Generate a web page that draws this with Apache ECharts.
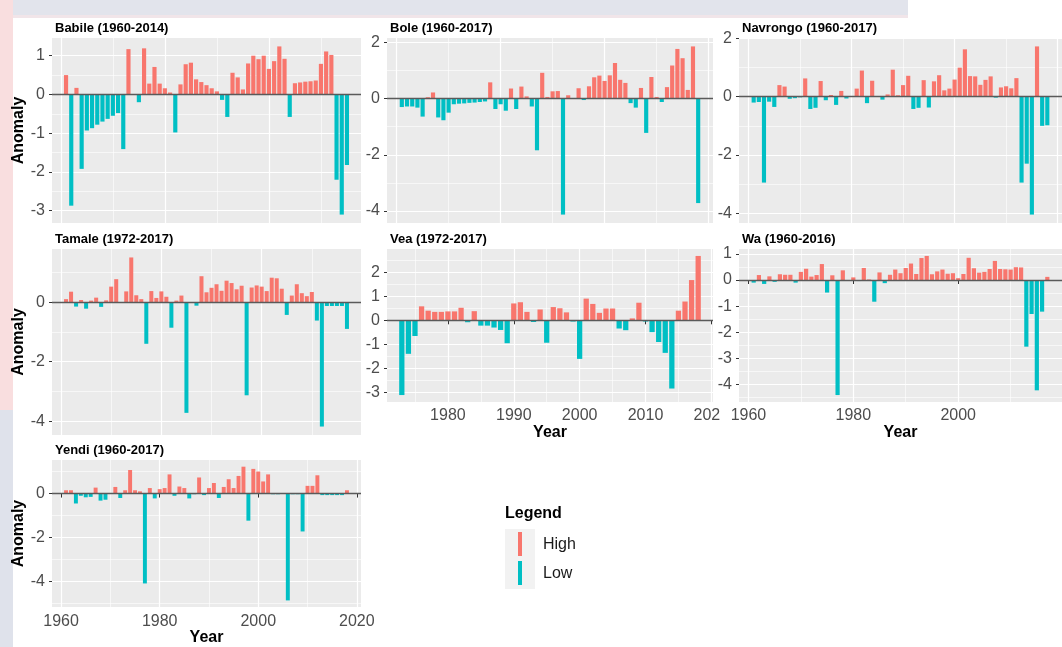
<!DOCTYPE html>
<html><head><meta charset="utf-8">
<script src="https://cdn.jsdelivr.net/npm/echarts@6/dist/echarts.min.js"></script>
<style>html,body{margin:0;padding:0;background:#fff}#c{width:1062px;height:647px}</style>
</head><body><div id="c"></div>
<script>
// ---------------- DATA ----------------
const titles = ['Babile (1960-2014)', 'Bole (1960-2017)', 'Navrongo (1960-2017)', 'Tamale (1972-2017)', 'Vea (1972-2017)', 'Wa (1960-2016)', 'Yendi (1960-2017)'];

const babileStart = 1961;
const babileValues = [0.5, -2.87, 0.17, -1.92, -0.93, -0.87, -0.78, -0.70, -0.63, -0.55, -0.48, -1.41, 1.17, 0, -0.2, 1.19, 0.28, 0.71, 0.28, 0.16, 0.05, -0.98, 0.26, 0.78, 0.82, 0.39, 0.32, 0.24, 0.16, 0.08, -0.14, -0.58, 0.56, 0.44, 0.13, 0.80, 1.0, 0.91, 1.0, 0.66, 0.86, 1.24, 0.92, -0.58, 0.29, 0.31, 0.33, 0.34, 0.36, 0.79, 1.11, 1.02, -2.2, -3.1, -1.82];

const boleStart = 1961;
const boleValues = [-0.3, -0.28, -0.28, -0.32, -0.64, 0.05, 0.22, -0.67, -0.77, -0.5, -0.2, -0.18, -0.17, -0.15, -0.14, -0.12, -0.1, 0.58, -0.37, -0.2, -0.43, 0.36, -0.37, 0.43, 0.08, -0.28, -1.84, 0.92, 0.06, 0.26, 0.27, -4.13, 0.12, 0, 0.37, -0.05, 0.44, 0.76, 0.82, 0.63, 0.83, 1.27, 0.67, 0.56, -0.16, -0.32, 0.38, -1.22, 0.77, 0.06, -0.12, 0.41, 1.18, 1.77, 1.44, 0.31, 1.86, -3.72];

const navrongoStart = 1961;
const navrongoValues = [-0.2, -0.18, -2.95, -0.17, -0.35, 0.4, 0.35, -0.07, -0.05, -0.02, 0.63, -0.42, -0.38, 0.54, -0.12, 0.06, -0.28, 0.2, -0.06, 0, 0.28, 0.9, -0.22, 0.55, 0, -0.1, 0.08, 0.93, 0.05, 0.4, 0.72, -0.42, -0.38, 0.57, -0.37, 0.53, 0.74, 0.22, 0.28, 0.59, 1.0, 1.63, 0.71, 0.7, 0.41, 0.58, 0.7, -0.03, 0.32, 0.36, 0.29, 0.64, -2.95, -2.3, -4.05, 1.73, -1.0, -0.98];

const tamaleStart = 1961;
const tamaleValues = [0.1, 0.35, -0.15, 0.07, -0.22, 0.05, 0.15, -0.16, 0.06, 0.52, 0.77, 0, 0.36, 1.5, 0.23, 0.1, -1.4, 0.37, 0.14, 0.36, 0.18, -0.86, 0.05, 0.22, -3.72, 0, -0.12, 0.87, 0.33, 0.48, 0.6, 0.38, 0.72, 0.64, 0.43, 0.55, -3.13, 0.49, 0.56, 0.52, 0.37, 0.82, 0.8, 0.45, -0.43, 0.22, 0.6, 0.3, 0.2, 0.34, -0.62, -4.18, -0.13, -0.13, -0.13, -0.13, -0.9];

const veaStart = 1973;
const veaValues = [-3.1, -1.39, -0.65, 0.58, 0.4, 0.35, 0.35, 0.37, 0.37, 0.52, -0.08, 0.38, -0.22, -0.22, -0.3, -0.4, -0.95, 0.7, 0.75, 0.35, -0.07, 0.45, -0.93, 0.55, 0.5, 0.33, -0.05, -1.6, 0.9, 0.68, 0.31, 0.49, 0.49, -0.34, -0.41, 0.08, 0.73, -0.05, -0.49, -0.9, -1.35, -2.83, 0.4, 0.78, 1.67, 2.67];

const waStart = 1961;
const waValues = [-0.1, 0.19, -0.15, 0.14, -0.07, 0.22, 0.2, 0.2, -0.1, 0.31, 0.43, 0.13, 0.19, 0.61, -0.48, 0.18, -4.4, 0.37, 0, 0.1, -0.04, 0.46, 0.02, -0.83, 0.29, -0.12, 0.2, 0.4, 0.26, 0.46, 0.63, 0.23, 0.84, 0.92, 0.22, 0.33, 0.4, 0.24, 0.26, 0.07, 0.23, 0.85, 0.45, 0.28, 0.31, 0.42, 0.73, 0.42, 0.41, 0.4, 0.49, 0.48, -2.55, -1.3, -4.22, -1.21, 0.12];

const yendiStart = 1961;
const yendiValues = [0.15, 0.15, -0.45, -0.1, -0.17, -0.15, 0.27, -0.32, -0.28, 0, 0.3, -0.2, 0.15, 1.07, 0.15, 0.1, -4.08, 0.25, -0.22, 0.2, 0.25, 0.87, -0.1, 0.32, 0.25, -0.22, -0.03, 0.73, -0.07, 0.25, 0.48, -0.2, 0.3, 0.65, 0.25, 0.8, 1.22, -1.23, 1.12, 1.0, 0.55, 0.87, -0.03, -0.03, 0, -4.85, -0.03, -0.03, -1.72, 0.35, 0.35, 0.83, -0.07, -0.07, -0.07, -0.07, -0.07, 0.15];

const babileYTicks = [-3, -2, -1, 0, 1];
const boleYTicks = [-4, -2, 0, 2];
const navrongoYTicks = [-4, -2, 0, 2];
const tamaleYTicks = [-4, -2, 0];
const veaYTicks = [-3, -2, -1, 0, 1, 2];
const waYTicks = [-4, -3, -2, -1, 0, 1];
const yendiYTicks = [-4, -2, 0];
const defaultXTicks = [1960, 1980, 2000, 2020];
const veaXTicks = [1980, 1990, 2000, 2010, 2020];
const legendTitle = 'Legend';
const legendLabels = ['High', 'Low'];
const xAxisTitle = 'Year';
const yAxisTitle = 'Anomaly';

// ---------------- LAYOUT / STYLE ----------------
const FONT = '"Liberation Sans", Arial, Helvetica, sans-serif';
const HIGH = '#F8766D', LOW = '#00BFC4';
const panels = [
  {title: titles[0], start: babileStart, values: babileValues, yTicks: babileYTicks, xTicks: defaultXTicks, left: 52, top: 38, width: 309, height: 185, showX: false, showYName: true},
  {title: titles[1], start: boleStart, values: boleValues, yTicks: boleYTicks, xTicks: defaultXTicks, left: 387, top: 38, width: 326, height: 185, showX: false, showYName: false},
  {title: titles[2], start: navrongoStart, values: navrongoValues, yTicks: navrongoYTicks, xTicks: defaultXTicks, left: 739, top: 38, width: 325, height: 185, showX: false, showYName: false},
  {title: titles[3], start: tamaleStart, values: tamaleValues, yTicks: tamaleYTicks, xTicks: defaultXTicks, left: 52, top: 249, width: 309, height: 186, showX: false, showYName: true},
  {title: titles[4], start: veaStart, values: veaValues, yTicks: veaYTicks, xTicks: veaXTicks, left: 387, top: 249, width: 326, height: 153, showX: true, showYName: false},
  {title: titles[5], start: waStart, values: waValues, yTicks: waYTicks, xTicks: defaultXTicks, left: 739, top: 249, width: 323, height: 153, showX: true, showYName: false},
  {title: titles[6], start: yendiStart, values: yendiValues, yTicks: yendiYTicks, xTicks: defaultXTicks, left: 52, top: 460, width: 309, height: 153, showX: true, showYName: true}
];

function expand(lo, hi) { const d = (hi - lo) * 0.05; return [lo - d, hi + d]; }
function minorsOf(majors, lo, hi) {
  const step = majors[1] - majors[0];
  const out = [majors[0] - step / 2];
  majors.forEach(m => out.push(m + step / 2));
  return out.filter(v => v >= lo && v <= hi);
}

const grid = [], xAxis = [], yAxis = [], series = [], title = [];
panels.forEach((p, i) => {
  const n = p.values.length;
  const xr = expand(p.start, p.start + n - 1);
  const yr = expand(Math.min(0, ...p.values), Math.max(0, ...p.values));
  const xMaj = p.xTicks.filter(v => v >= xr[0] && v <= xr[1]);
  const xMin = minorsOf(p.xTicks, xr[0], xr[1]);
  const yMaj = p.yTicks.filter(v => v >= yr[0] && v <= yr[1]);
  const yMin = minorsOf(p.yTicks, yr[0], yr[1]);
  const pxPerYear = p.width / (xr[1] - xr[0]);

  grid.push({left: p.left, top: p.top, width: p.width, height: p.height, show: true, backgroundColor: '#EBEBEB', borderWidth: 0});
  title.push({text: p.title, left: p.left + 3, top: p.top - 16, padding: 0,
    textStyle: {fontSize: 13, fontWeight: 'bold', color: '#000', fontFamily: FONT}});

  xAxis.push({gridIndex: i, type: 'value', min: xr[0], max: xr[1],
    axisLine: {show: false},
    axisTick: {show: p.showX, length: 4, lineStyle: {color: '#333'}, customValues: xMaj},
    axisLabel: {show: p.showX, customValues: xMaj, margin: 6, fontSize: 16, color: '#4D4D4D', fontFamily: FONT,
      formatter: v => String(Math.round(v))},
    splitLine: {show: true, lineStyle: {color: '#FFFFFF', width: 1.2}},
    name: p.showX ? xAxisTitle : '', nameLocation: 'middle', nameGap: 21,
    nameTextStyle: {fontSize: 16, fontWeight: 'bold', color: '#000', fontFamily: FONT}});
  xAxis.push({gridIndex: i, type: 'value', min: xr[0], max: xr[1],
    axisLine: {show: false}, axisTick: {show: false, customValues: xMin},
    axisLabel: {show: false, customValues: xMin},
    splitLine: {show: true, lineStyle: {color: '#FFFFFF', width: 0.6}}});

  yAxis.push({gridIndex: i, type: 'value', min: yr[0], max: yr[1],
    axisLine: {show: false},
    axisTick: {show: true, length: 3, lineStyle: {color: '#333'}, customValues: yMaj},
    axisLabel: {show: true, customValues: yMaj, margin: 7, fontSize: 16, color: '#4D4D4D', fontFamily: FONT,
      formatter: v => String(Math.round(v))},
    splitLine: {show: true, lineStyle: {color: '#FFFFFF', width: 1.2}},
    name: p.showYName ? yAxisTitle : '', nameLocation: 'middle', nameGap: 17,
    nameTextStyle: {fontSize: 16, fontWeight: 'bold', color: '#000', fontFamily: FONT}});
  yAxis.push({gridIndex: i, type: 'value', min: yr[0], max: yr[1],
    axisLine: {show: false}, axisTick: {show: false, customValues: yMin},
    axisLabel: {show: false, customValues: yMin},
    splitLine: {show: true, lineStyle: {color: '#FFFFFF', width: 0.6}}});

  series.push({type: 'bar', xAxisIndex: 2 * i, yAxisIndex: 2 * i,
    barWidth: Math.max(1, pxPerYear * 0.8),
    data: p.values.map((v, k) => [p.start + k, v]),
    itemStyle: {color: (prm) => prm.value[1] >= 0 ? HIGH : LOW},
    emphasis: {disabled: true}, silent: true,
    markLine: {silent: true, symbol: 'none', animation: false, label: {show: false},
      lineStyle: {color: '#5A5A5A', width: 1.3, type: 'solid'}, data: [{yAxis: 0}]}});
});

const graphic = [
  {type: 'rect', left: 0, top: 0, z: -1, shape: {width: 908, height: 15}, style: {fill: '#E2E4EC'}},
  {type: 'rect', left: 0, top: 15, z: -1, shape: {width: 908, height: 3}, style: {fill: '#F1E5E9'}},
  {type: 'rect', left: 0, top: 0, z: -1, shape: {width: 13, height: 410}, style: {fill: '#F9DEDF'}},
  {type: 'rect', left: 0, top: 410, z: -1, shape: {width: 13, height: 237}, style: {fill: '#DFE2EB'}},
  {type: 'rect', left: 720, top: 404, z: 100, shape: {width: 11, height: 24}, style: {fill: '#FFFFFF'}},
  {type: 'text', left: 505, top: 506, style: {text: legendTitle, fill: '#000', font: 'bold 16px ' + FONT}},
  {type: 'rect', left: 505, top: 529, shape: {width: 30, height: 60}, style: {fill: '#F2F2F2'}},
  {type: 'rect', left: 518, top: 532, z: 5, shape: {width: 4, height: 24}, style: {fill: HIGH}},
  {type: 'rect', left: 518, top: 561, z: 5, shape: {width: 4, height: 24}, style: {fill: LOW}},
  {type: 'text', left: 543, top: 537, style: {text: legendLabels[0], fill: '#1A1A1A', font: '16px ' + FONT}},
  {type: 'text', left: 543, top: 566, style: {text: legendLabels[1], fill: '#1A1A1A', font: '16px ' + FONT}}
];

const chart = echarts.init(document.getElementById('c'), null, {renderer: 'canvas'});
chart.setOption({animation: false, backgroundColor: '#FFFFFF', title, grid, xAxis, yAxis, series, graphic, tooltip: {show: false}});
</script></body></html>
